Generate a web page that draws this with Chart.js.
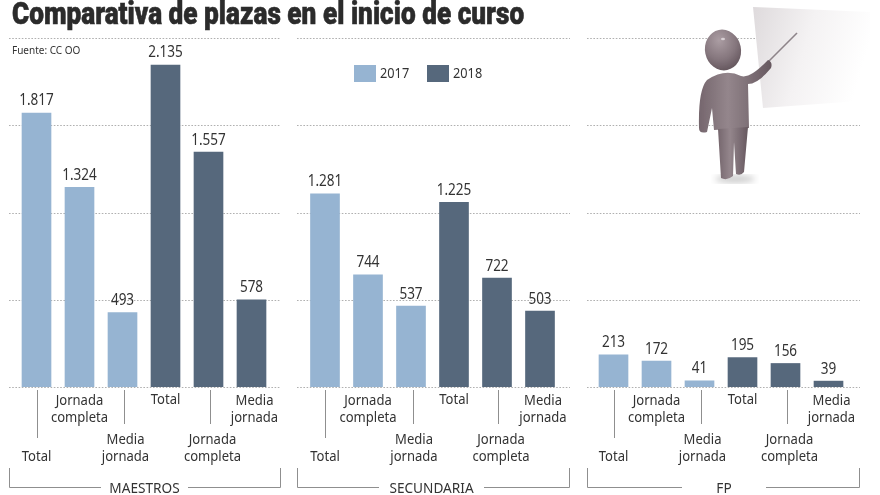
<!DOCTYPE html>
<html><head><meta charset="utf-8">
<script src="https://cdn.jsdelivr.net/npm/chart.js@4"></script>
<style>
html,body{margin:0;padding:0;background:#fff;width:880px;height:495px;overflow:hidden}
canvas{position:absolute;left:0;top:0}
#title{position:absolute;left:12px;top:-5px;font:900 31px Roboto,sans-serif;color:#2b2b2b;white-space:nowrap;transform-origin:0 0;transform:scaleX(.845);-webkit-text-stroke:.6px #2b2b2b}
#src{position:absolute;left:12px;top:43px;font:10px "Noto Sans",sans-serif;color:#333;white-space:nowrap}
svg{position:absolute;left:0;top:0}
.w{position:absolute;left:0;top:0;width:880px;height:495px}
</style></head><body>
<div class="w"><canvas id="c1" width="880" height="495"></canvas></div>
<div class="w"><canvas id="c2" width="880" height="495"></canvas></div>
<div class="w"><canvas id="c3" width="880" height="495"></canvas></div>
<div id="title">Comparativa de plazas en el inicio de curso</div>
<div id="src">Fuente: CC OO</div>
<svg width="880" height="495" viewBox="0 0 880 495">
<defs>
<linearGradient id="pap" x1="0" x2="1" y1="0" y2=".25"><stop offset="0" stop-color="#dedadc"/><stop offset=".5" stop-color="#f4f2f3"/><stop offset="1" stop-color="#fff"/></linearGradient>
<radialGradient id="hd" cx=".45" cy=".25" r=".85"><stop offset="0" stop-color="#ab9da3"/><stop offset=".55" stop-color="#85767d"/><stop offset="1" stop-color="#5a4c53"/></radialGradient>
<linearGradient id="bd" x1="0" x2="1"><stop offset="0" stop-color="#75666d"/><stop offset=".4" stop-color="#94868c"/><stop offset="1" stop-color="#66585f"/></linearGradient>
<filter id="b1"><feGaussianBlur stdDeviation="3"/></filter>
<filter id="b2"><feGaussianBlur stdDeviation=".5"/></filter>
</defs>
<polygon points="753,7 870,12 873,100 763,108" fill="url(#pap)" filter="url(#b2)"/>
<ellipse cx="735" cy="179" rx="20" ry="4" fill="#ccc" filter="url(#b1)"/>
<g filter="url(#b2)">
<line x1="768" y1="62" x2="797" y2="33" stroke="#8e8489" stroke-width="1.6"/>
<path d="M707 80 Q725 68 741 76 Q750 79 768 60 Q773 62 771 68 Q758 84 748 84 L749 128 L714 130 L712 108 L707 132 Q699 134 699 128 Q698 90 707 80Z" fill="url(#bd)"/>
<path d="M718 129 L748 127 L744 172 Q741 176 736 174 L734 142 L733 176 Q727 181 721 178Z" fill="url(#bd)"/>
<ellipse cx="723" cy="50" rx="18" ry="20.5" transform="rotate(-12 723 50)" fill="url(#hd)"/>
<ellipse cx="723" cy="39" rx="2" ry="1.3" fill="#d8cfd3"/>
</g>
</svg>
<script>
const categories = ["Total", "Jornada completa", "Media jornada", "Total", "Jornada completa", "Media jornada"];
const panels = ["MAESTROS", "SECUNDARIA", "FP"];
const years = ["2017", "2018"];
const maestros2017 = [1817, 1324, 493];
const maestros2018 = [2135, 1557, 578];
const secundaria2017 = [1281, 744, 537];
const secundaria2018 = [1225, 722, 503];
const fp2017 = [213, 172, 41];
const fp2018 = [195, 156, 39];

const LIGHT = "#96b4d2", DARK = "#56687c", TXT = "#333333";
const fmt = v => String(v).replace(/\B(?=(\d{3})+$)/g, ".");

function text(ctx, s, x, y, font, sx, align) {
  ctx.save();
  ctx.font = font; ctx.fillStyle = TXT; ctx.textBaseline = "alphabetic";
  ctx.textAlign = align || "center";
  ctx.translate(x, y); ctx.scale(sx, 1);
  ctx.fillText(s, 0, 0);
  ctx.restore();
}
const LAB = '14.5px "Noto Sans", sans-serif', NUM = '16.5px "Noto Sans", sans-serif';
// layout of the staggered labels for each slot: [x shift, first baseline]
const lay = [[0, 461], [0, 405], [3, 444], [0, 405], [4, 444], [3, 405]];

const furniture = {
  id: "furniture",
  beforeDatasetsDraw(chart, a, o) {
    const ctx = chart.ctx, ys = chart.scales.y;
    ctx.save();
    ctx.strokeStyle = "#b0b0b0"; ctx.lineWidth = 1; ctx.setLineDash([1.6, 1.6]);
    ys.ticks.forEach(t => {
      const y = Math.round(ys.getPixelForValue(t.value)) + .5;
      ctx.beginPath(); ctx.moveTo(o.x0, y); ctx.lineTo(o.x1, y); ctx.stroke();
    });
    ctx.restore();
  },
  afterDatasetsDraw(chart, a, o) {
    const ctx = chart.ctx, xs = chart.scales.x, ys = chart.scales.y;
    // value labels
    chart.data.datasets.forEach(ds => ds.data.forEach((v, i) => {
      if (v == null) return;
      text(ctx, fmt(v), xs.getPixelForValue(i), ys.getPixelForValue(v) - 7.5, NUM, .82);
    }));
    // category labels + leaders
    ctx.save(); ctx.strokeStyle = "#8f8f8f"; ctx.lineWidth = 1;
    categories.forEach((c, i) => {
      const x = xs.getPixelForValue(i), [dx, y0] = lay[i];
      const words = c.split(" ");
      if (i === 0 || i === 2 || i === 4) {
        const lx = Math.round(x + (i === 0 ? 0 : i === 2 ? 1.5 : 1)) + .5;
        ctx.beginPath(); ctx.moveTo(lx, 390); ctx.lineTo(lx, i === 0 ? 438 : 424); ctx.stroke();
      }
      words.forEach((w, k) => {
        const y = words.length === 1 ? (i === 0 ? 461 : 404) : y0 + k * 17;
        text(ctx, w, x + dx, y, LAB, .9);
      });
    });
    // bracket
    ctx.beginPath();
    ctx.moveTo(o.x0 + .5, 468); ctx.lineTo(o.x0 + .5, 487.5); ctx.lineTo(o.gap0, 487.5);
    ctx.moveTo(o.gap1, 487.5); ctx.lineTo(o.x1 - .5, 487.5); ctx.lineTo(o.x1 - .5, 468);
    ctx.stroke(); ctx.restore();
    text(ctx, o.name, (o.gap0 + o.gap1) / 2, 492.5, LAB, .94);
    // legend
    if (o.legend) {
      let pos = [354, 427];
      chart.data.datasets.forEach((ds, i) => {
        ctx.fillStyle = ds.backgroundColor;
        ctx.fillRect(pos[i], 65, 22, 17);
        text(ctx, ds.label, pos[i] + 26, 78, LAB, .88, "left");
      });
    }
  }
};

function make(id, a, b, padL, padR, o) {
  const pad = n => [null, null, null].concat(n);
  return new Chart(document.getElementById(id), {
    type: "bar",
    data: {
      labels: categories.map((c, i) => c + (i < 3 ? " " + years[0] : " " + years[1])),
      datasets: [
        { label: years[0], data: a.concat([null, null, null]), backgroundColor: LIGHT, barThickness: 29 },
        { label: years[1], data: pad(b), backgroundColor: DARK, barThickness: 29 }
      ]
    },
    options: {
      responsive: false, animation: false, devicePixelRatio: 1,
      layout: { padding: { left: padL, right: padR, top: 38, bottom: 108 } },
      plugins: { legend: { display: false }, title: { display: false }, tooltip: { enabled: false }, furniture: o },
      scales: {
        x: { display: false, stacked: true },
        y: { display: false, stacked: false, min: 0, max: 2314, ticks: { stepSize: 578.5 } }
      }
    },
    plugins: [furniture]
  });
}
make("c1", maestros2017, maestros2018, 15, 880 - 273, { x0: 9, x1: 281, gap0: 101, gap1: 188, name: panels[0] });
make("c2", secundaria2017, secundaria2018, 303.5, 880 - 561.5, { x0: 297, x1: 570, gap0: 379, gap1: 484, name: panels[1], legend: true });
make("c3", fp2017, fp2018, 592, 880 - 850, { x0: 587, x1: 860, gap0: 682, gap1: 766, name: panels[2] });
</script>
</body></html>
